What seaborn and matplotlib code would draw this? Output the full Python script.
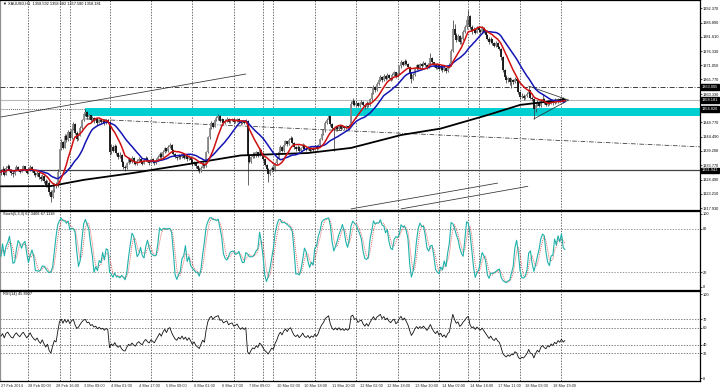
import numpy as np
import pandas as pd
import matplotlib
matplotlib.use("Agg")
import matplotlib.pyplot as plt
import matplotlib.transforms as mtransforms
from matplotlib import font_manager
import seaborn as sns

# ---------------- data (XAUUSD H1) ----------------
close = [
 1331.2, 1332.5, 1330.4, 1332.8, 1333.5, 1332.1, 1331.0, 1330.6, 1332.2, 1333.1,
 1332.0, 1331.4, 1332.6, 1333.4, 1332.3, 1331.1, 1332.0, 1333.2, 1331.8, 1330.9,
 1330.2, 1331.0, 1329.6, 1328.7, 1329.9, 1328.1, 1326.5, 1327.4, 1323.8, 1322.0,
 1324.5, 1326.8, 1326.0, 1331.5, 1339.8, 1342.6, 1340.4, 1344.8, 1343.1, 1346.2,
 1344.0, 1347.5, 1349.2, 1346.0, 1343.6, 1344.9, 1347.8, 1350.6, 1352.9, 1353.6,
 1351.8, 1352.4, 1350.6, 1351.5, 1350.2, 1350.9, 1349.6, 1350.7, 1349.8, 1350.4,
 1349.5, 1350.6, 1350.1, 1338.6, 1340.8, 1339.2, 1341.0, 1338.4, 1336.9, 1337.8,
 1335.0, 1333.2, 1332.8, 1334.6, 1336.0, 1335.2, 1336.4, 1335.0, 1334.2, 1335.6,
 1336.2, 1335.0, 1334.4, 1335.8, 1336.6, 1335.4, 1334.8, 1336.0, 1335.3, 1334.6,
 1335.8, 1336.9, 1338.2, 1337.1, 1338.9, 1340.2, 1339.0, 1340.8, 1341.4, 1339.6,
 1338.2, 1337.0, 1336.4, 1337.5, 1336.8, 1337.9, 1336.6, 1337.4, 1336.1, 1337.0,
 1335.8, 1334.2, 1335.0, 1333.4, 1332.6, 1331.8, 1333.0, 1334.4, 1333.5, 1338.6,
 1344.2, 1347.8, 1349.5, 1348.2, 1350.6, 1351.3, 1352.2, 1350.4, 1350.9, 1349.7,
 1350.5, 1351.2, 1349.8, 1350.6, 1351.0, 1349.9, 1350.3, 1351.1, 1350.0, 1349.4,
 1350.2, 1349.6, 1350.4, 1337.5, 1335.2, 1336.8, 1338.0, 1337.2, 1338.6, 1337.4,
 1339.4, 1338.2, 1336.0, 1333.8, 1332.4, 1330.6, 1331.8, 1333.0, 1332.1, 1334.6,
 1336.3, 1338.9, 1340.6, 1339.2, 1341.5, 1342.8, 1341.6, 1343.4, 1344.0, 1342.1,
 1340.5, 1339.8, 1340.7, 1339.3, 1340.2, 1341.5, 1340.0, 1339.5, 1340.4, 1339.2,
 1340.1, 1339.6, 1340.8, 1340.0, 1341.2, 1343.5, 1345.4, 1346.8, 1349.6, 1350.8,
 1352.0, 1349.2, 1347.6, 1346.9, 1348.0, 1347.2, 1348.4, 1347.5, 1348.2, 1347.6,
 1348.4, 1347.9, 1348.6, 1356.8, 1357.9, 1356.4, 1357.2, 1355.8, 1356.9, 1357.5,
 1356.2, 1355.4, 1357.0, 1356.1, 1358.4, 1360.6, 1362.9, 1361.8, 1364.2, 1365.5,
 1366.8, 1365.4, 1367.2, 1366.1, 1367.5, 1366.4, 1365.9, 1367.6, 1368.4, 1366.9,
 1368.0, 1370.6, 1372.4, 1371.2, 1372.8, 1371.6, 1370.4, 1368.2, 1366.0, 1367.4,
 1369.6, 1371.0, 1370.2, 1371.4, 1370.8, 1372.0, 1371.2, 1370.4, 1371.8, 1373.6,
 1372.2, 1371.0, 1370.2, 1371.4, 1369.8, 1370.6, 1369.2, 1370.0, 1368.9, 1370.5,
 1371.2, 1376.5, 1384.6, 1382.3, 1380.5, 1381.8, 1379.6, 1380.9, 1383.4, 1385.2,
 1388.0, 1389.5, 1385.4, 1383.8, 1384.6, 1383.2, 1385.0, 1384.1, 1383.5, 1384.8,
 1383.6, 1382.4, 1381.0, 1379.6, 1380.8, 1379.2, 1378.4, 1379.5, 1378.0, 1377.2,
 1374.0, 1369.2, 1366.8, 1365.4, 1366.2, 1364.8, 1365.6, 1364.9, 1366.0, 1365.2,
 1361.0, 1359.2, 1359.8, 1358.9, 1359.6, 1360.4, 1361.8, 1359.0, 1358.4, 1354.6,
 1356.2, 1357.4, 1356.0, 1357.8, 1358.6, 1357.2, 1356.4, 1357.6, 1356.8, 1357.9,
 1357.0, 1358.2, 1357.4, 1358.6, 1357.8, 1358.9, 1357.6, 1358.181,
]
high = [
 1332.6, 1333.4, 1332.9, 1333.6, 1334.4, 1333.8, 1332.5, 1331.9, 1332.9, 1333.9,
 1333.5, 1332.4, 1333.2, 1334.1, 1333.6, 1332.5, 1332.8, 1333.9, 1333.4, 1332.0,
 1331.4, 1331.8, 1331.2, 1330.1, 1330.6, 1330.2, 1328.6, 1328.2, 1327.8, 1324.6,
 1325.6, 1327.4, 1327.6, 1332.4, 1340.6, 1343.8, 1343.0, 1345.6, 1345.4, 1347.0,
 1346.8, 1348.2, 1350.1, 1349.6, 1346.5, 1345.8, 1348.4, 1351.2, 1353.6, 1354.6,
 1353.9, 1353.0, 1352.6, 1352.0, 1351.8, 1351.5, 1351.0, 1351.2, 1350.9, 1351.0,
 1350.8, 1351.2, 1350.9, 1350.4, 1341.6, 1341.4, 1341.8, 1341.2, 1338.8, 1338.6,
 1338.0, 1335.6, 1334.0, 1335.2, 1336.8, 1336.6, 1337.2, 1336.8, 1335.6, 1336.2,
 1337.0, 1336.4, 1335.6, 1336.4, 1337.2, 1336.8, 1335.8, 1336.6, 1336.4, 1335.6,
 1336.4, 1337.6, 1338.8, 1338.6, 1339.6, 1340.8, 1340.4, 1341.2, 1342.0, 1341.6,
 1339.8, 1338.4, 1337.4, 1338.0, 1337.8, 1338.4, 1338.2, 1337.9, 1337.6, 1337.6,
 1337.2, 1336.0, 1335.6, 1335.2, 1333.8, 1333.2, 1333.6, 1335.0, 1334.8, 1339.2,
 1344.8, 1348.6, 1350.4, 1349.8, 1351.2, 1352.0, 1352.8, 1352.4, 1351.6, 1351.0,
 1351.0, 1351.8, 1351.4, 1351.2, 1351.6, 1351.2, 1350.9, 1351.6, 1351.3, 1350.4,
 1350.7, 1350.6, 1350.9, 1350.6, 1337.9, 1337.4, 1338.6, 1338.6, 1339.2, 1338.8,
 1340.2, 1339.8, 1338.6, 1336.4, 1334.2, 1333.0, 1332.4, 1333.6, 1333.4, 1335.2,
 1336.8, 1339.6, 1341.2, 1341.0, 1342.0, 1343.4, 1343.0, 1343.9, 1344.6, 1344.2,
 1342.4, 1341.0, 1341.2, 1340.9, 1340.8, 1342.0, 1341.8, 1340.4, 1341.0, 1340.6,
 1340.6, 1340.6, 1341.3, 1341.0, 1341.8, 1344.0, 1345.9, 1347.4, 1350.2, 1351.4,
 1352.4, 1352.0, 1349.6, 1348.0, 1348.6, 1348.4, 1348.9, 1348.6, 1348.8, 1348.4,
 1348.9, 1348.6, 1349.2, 1357.6, 1358.9, 1358.2, 1357.8, 1357.4, 1357.5, 1358.2,
 1357.8, 1356.6, 1357.6, 1357.4, 1358.9, 1361.2, 1363.6, 1363.2, 1364.8, 1366.2,
 1367.4, 1367.0, 1367.8, 1367.6, 1368.1, 1367.8, 1366.8, 1368.2, 1369.0, 1368.6,
 1368.6, 1371.2, 1373.2, 1372.8, 1373.4, 1373.0, 1371.8, 1370.6, 1368.4, 1368.0,
 1370.2, 1371.6, 1371.4, 1372.0, 1371.8, 1372.6, 1372.4, 1371.6, 1372.4, 1375.6,
 1374.0, 1372.4, 1371.4, 1371.8, 1371.6, 1371.2, 1370.8, 1370.6, 1370.2, 1371.0,
 1371.8, 1377.0, 1387.8, 1386.4, 1383.0, 1382.6, 1382.2, 1381.6, 1384.0, 1386.0,
 1389.0, 1391.6, 1389.8, 1386.0, 1385.4, 1385.0, 1385.8, 1385.6, 1384.6, 1385.6,
 1385.2, 1384.0, 1382.6, 1381.4, 1381.4, 1381.0, 1379.9, 1380.2, 1379.8, 1378.4,
 1377.6, 1374.4, 1369.8, 1367.4, 1366.8, 1366.6, 1366.2, 1366.0, 1366.6, 1366.4,
 1365.4, 1361.4, 1360.6, 1360.2, 1360.0, 1361.0, 1363.3, 1362.0, 1359.6, 1358.8,
 1357.0, 1358.0, 1357.6, 1358.4, 1360.2, 1358.8, 1357.6, 1358.2, 1357.8, 1358.4,
 1358.2, 1358.8, 1358.5, 1359.0, 1358.9, 1359.4, 1359.2, 1358.682,
]
low = [
 1330.2, 1330.8, 1329.8, 1330.2, 1332.4, 1331.6, 1330.4, 1329.6, 1330.4, 1331.8,
 1331.6, 1330.8, 1331.2, 1332.2, 1331.8, 1330.6, 1330.8, 1331.7, 1331.2, 1330.2,
 1329.6, 1329.8, 1328.8, 1327.9, 1328.4, 1327.4, 1325.8, 1325.6, 1322.8, 1320.2,
 1321.6, 1324.0, 1325.4, 1325.8, 1331.2, 1339.4, 1339.8, 1340.2, 1342.4, 1342.8,
 1343.4, 1343.6, 1346.8, 1345.4, 1342.8, 1343.2, 1344.6, 1347.4, 1350.2, 1352.0,
 1351.2, 1351.0, 1350.0, 1350.2, 1349.6, 1349.8, 1349.0, 1349.4, 1349.2, 1349.4,
 1348.9, 1349.2, 1349.4, 1337.8, 1338.2, 1338.6, 1338.8, 1337.8, 1336.2, 1336.6,
 1334.4, 1332.6, 1331.8, 1332.4, 1334.2, 1334.6, 1334.8, 1334.4, 1333.8, 1334.0,
 1335.2, 1334.6, 1333.8, 1334.2, 1335.4, 1335.0, 1334.0, 1334.6, 1334.8, 1334.0,
 1334.4, 1335.6, 1336.6, 1336.6, 1336.8, 1338.4, 1338.6, 1338.8, 1340.2, 1339.2,
 1337.8, 1336.4, 1335.8, 1336.2, 1336.2, 1336.6, 1336.0, 1336.4, 1335.6, 1335.8,
 1335.2, 1333.6, 1333.8, 1332.8, 1331.8, 1331.0, 1331.4, 1332.8, 1332.8, 1333.2,
 1338.4, 1343.8, 1347.2, 1347.6, 1348.0, 1350.2, 1350.8, 1350.0, 1350.2, 1349.2,
 1349.2, 1350.0, 1349.4, 1349.6, 1350.2, 1349.4, 1349.6, 1350.0, 1349.6, 1348.8,
 1349.2, 1349.2, 1349.4, 1326.5, 1334.6, 1334.8, 1336.4, 1336.6, 1336.8, 1336.8,
 1337.2, 1337.8, 1335.6, 1333.4, 1331.8, 1327.6, 1330.2, 1331.4, 1331.6, 1331.8,
 1334.2, 1336.0, 1338.6, 1338.8, 1338.9, 1341.2, 1341.0, 1341.4, 1342.8, 1341.6,
 1339.8, 1339.2, 1339.4, 1338.8, 1339.0, 1340.0, 1339.6, 1339.0, 1339.4, 1338.8,
 1339.0, 1339.0, 1339.4, 1339.6, 1339.8, 1341.0, 1343.2, 1345.2, 1346.4, 1349.2,
 1350.4, 1348.6, 1346.8, 1339.0, 1346.6, 1346.6, 1347.0, 1347.0, 1347.4, 1347.0,
 1347.4, 1347.4, 1347.6, 1348.4, 1356.4, 1355.8, 1356.0, 1355.4, 1355.6, 1356.6,
 1355.8, 1354.8, 1355.2, 1355.6, 1356.0, 1358.0, 1360.4, 1361.0, 1361.6, 1363.8,
 1365.2, 1364.8, 1365.2, 1365.6, 1365.8, 1365.8, 1365.2, 1365.6, 1367.2, 1366.4,
 1366.6, 1367.8, 1370.2, 1370.6, 1371.0, 1371.0, 1370.0, 1367.8, 1364.4, 1365.6,
 1367.2, 1369.4, 1369.6, 1370.0, 1370.2, 1370.6, 1370.8, 1369.8, 1370.2, 1371.4,
 1371.6, 1370.4, 1369.6, 1369.8, 1369.2, 1369.4, 1368.6, 1368.8, 1368.2, 1368.6,
 1370.2, 1370.8, 1376.0, 1381.6, 1379.6, 1380.0, 1378.8, 1379.0, 1380.4, 1383.0,
 1384.6, 1386.0, 1384.6, 1382.8, 1383.4, 1382.6, 1383.0, 1383.4, 1382.6, 1383.0,
 1383.0, 1382.0, 1380.4, 1378.8, 1379.2, 1378.6, 1377.8, 1378.0, 1377.4, 1376.6,
 1373.2, 1368.6, 1366.0, 1364.6, 1364.8, 1363.8, 1362.6, 1364.2, 1364.6, 1364.6,
 1360.4, 1358.4, 1358.8, 1358.2, 1358.6, 1359.2, 1359.6, 1358.6, 1357.8, 1351.2,
 1353.8, 1355.8, 1355.4, 1355.6, 1357.4, 1356.6, 1355.8, 1356.0, 1356.2, 1356.6,
 1356.4, 1356.8, 1357.0, 1357.2, 1357.4, 1357.6, 1357.2, 1357.580,
]
# long moving average (black), read at a few bars
ma_long_bar = [0, 29, 48, 77, 106, 139, 178, 203, 232, 255, 282, 301, 323, 327]
ma_long_val = [1326.0, 1326.1, 1328.4, 1331.0, 1334.0, 1337.5, 1338.4, 1340.3,
               1345.1, 1347.5, 1352.5, 1356.3, 1358.0, 1358.2]

price_ticks = [1317.930, 1323.210, 1328.490, 1333.770, 1339.200, 1344.490, 1349.770,
               1360.330, 1365.770, 1371.050, 1376.330, 1381.610, 1386.890, 1392.370]
boxed_prices = [1363.005, 1358.181, 1354.826, 1331.943]

x_tick_bars = [0, 16, 32, 48, 64, 80, 96, 112, 128, 144, 160, 176, 192, 208,
               224, 240, 256, 272, 288, 304, 320]
x_tick_labels = ["27 Feb 2014", "28 Feb 00:00", "28 Feb 16:00", "3 Mar 09:00",
                 "4 Mar 01:00", "4 Mar 17:00", "5 Mar 09:00", "6 Mar 01:00",
                 "6 Mar 17:00", "7 Mar 09:00", "10 Mar 02:00", "10 Mar 18:00",
                 "11 Mar 10:00", "12 Mar 02:00", "12 Mar 18:00", "13 Mar 10:00",
                 "14 Mar 02:00", "14 Mar 18:00", "17 Mar 11:00", "18 Mar 03:00",
                 "18 Mar 19:00"]
separator_bars = [16, 34, 40, 63, 87, 111, 135, 152, 158, 182, 206, 230, 254,
                  271, 277, 301, 325]

zone_start_bar = 49
zone_low, zone_high = 1352.3, 1355.3
level_dashdot = 1363.005
level_bid = 1358.181
level_dotted = 1354.826
level_solid = 1331.943

# trend lines: (bar0, price0, bar1, price1)
trend_solid = [(0, 1351.8, 142, 1367.8),
               (203, 1317.6, 288, 1327.2),
               (232, 1317.6, 305.5, 1326.0),
               (306, 1363.3, 329, 1358.1),
               (309, 1351.1, 329, 1358.1)]
trend_dashdot = (49, 1351.1, 405.3, 1340.7)

stoch_levels = [20, 80]
rsi_levels = [30, 40, 60, 70]
title_main = "\u25BC XAUUSD,H1  1358.592 1358.682 1357.580 1358.181"
title_stoch = "Stoch(5,3,3) 67.3406 67.1118"
title_rsi = "RSI(14) 45.8997"

# ---------------- derived series ----------------
n = len(close)
df = pd.DataFrame({"bar": np.arange(n), "close": close, "high": high, "low": low})
df["open"] = df["close"].shift(1).fillna(df["close"].iloc[0])
df["hi"] = df[["high", "open", "close"]].max(axis=1)
df["lo"] = df[["low", "open", "close"]].min(axis=1)
df["ma_red"] = df["close"].rolling(10, min_periods=1).mean()
df["ma_blue"] = df["close"].rolling(20, min_periods=1).mean()

ll = df["lo"].rolling(5, min_periods=1).min()
hh = df["hi"].rolling(5, min_periods=1).max()
num = (df["close"] - ll).rolling(3, min_periods=1).sum()
den = (hh - ll).rolling(3, min_periods=1).sum()
df["k"] = (100 * num / den).fillna(50)
df["d"] = df["k"].rolling(3, min_periods=1).mean()

delta = df["close"].diff()
rsi_seed = 0.8  # average move carried in from bars before the window
g = delta.clip(lower=0).copy()
l = (-delta.clip(upper=0)).copy()
g.iloc[0] = rsi_seed
l.iloc[0] = rsi_seed
gain = g.ewm(alpha=1 / 14, adjust=False).mean()
loss = l.ewm(alpha=1 / 14, adjust=False).mean()
df["rsi"] = 100 * gain / (gain + loss)

# ---------------- figure ----------------
sns.set_style("white")
names = {f.name for f in font_manager.fontManager.ttflist}
if "Liberation Sans Narrow" in names:
    plt.rcParams["font.family"] = ["Liberation Sans Narrow", "DejaVu Sans"]
    FS = 3.3
else:
    plt.rcParams["font.family"] = ["Liberation Sans", "DejaVu Sans"]
    FS = 2.8
W, H = 720, 387
fig = plt.figure(figsize=(W / 100, H / 100), dpi=100)
R = 700 / W
ax = fig.add_axes([0, 1 - 210 / H, R, 210 / H])
ax_s = fig.add_axes([0, 1 - 290 / H, R, 79 / H], sharex=ax)
ax_r = fig.add_axes([0, 1 - 381 / H, R, 90 / H], sharex=ax)

xlim = (-0.5, 405.3)
for a in (ax, ax_s, ax_r):
    a.set_facecolor("white")
    a.set_xlim(*xlim)
    for s in a.spines.values():
        s.set_color("black")
        s.set_linewidth(0.9)
    a.spines["left"].set_color("#909090")
    a.yaxis.tick_right()
    a.tick_params(axis="y", which="both", direction="out", length=1.5, width=0.5,
                  labelsize=FS, pad=0.6, colors="black")
    for b in separator_bars:
        a.axvline(b, color="#303030", lw=0.5, ls=(0, (2.0, 2.0)), zorder=1)

# main chart
ax.set_ylim(1317.19, 1395.35)
ax.add_patch(plt.Rectangle((zone_start_bar, zone_low), xlim[1] - zone_start_bar,
                           zone_high - zone_low, color="#00CED1", lw=0, zorder=2))
ax.axhline(level_dotted, color="#303030", lw=0.6, ls=(0, (1, 1.5)), zorder=1)
ax.axhline(level_dashdot, color="#202020", lw=0.6, ls=(0, (6, 2, 1, 2)), zorder=3)
ax.axhline(level_bid, color="#b8b8b8", lw=0.8, zorder=1)
ax.axhline(level_solid, color="#404040", lw=0.9, zorder=3)
for (b0, p0, b1, p1) in trend_solid:
    ax.plot([b0, b1], [p0, p1], color="#303030", lw=0.55, zorder=3)
b0, p0, b1, p1 = trend_dashdot
ax.plot([b0, b1], [p0, p1], color="#303030", lw=0.55, ls=(0, (6, 2, 1, 2)), zorder=3)

up = df["close"] >= df["open"]
ax.vlines(df["bar"], df["lo"], df["hi"], color="#2a2a2a", lw=0.5, zorder=4)
ax.vlines(df["bar"][up], df["open"][up], df["close"][up], color="#8a8a8a", lw=1.3, zorder=4)
ax.vlines(df["bar"][~up], df["close"][~up], df["open"][~up], color="#111111", lw=1.3, zorder=4)

sns.lineplot(x=ma_long_bar, y=ma_long_val, ax=ax, color="black", lw=1.3, zorder=5)
sns.lineplot(data=df, x="bar", y="ma_blue", ax=ax, color="#1414b4", lw=1.1, zorder=6)
sns.lineplot(data=df, x="bar", y="ma_red", ax=ax, color="#d01010", lw=1.1, zorder=7)

ax.set_yticks(price_ticks)
ax.set_yticklabels([f"{v:.3f}" for v in price_ticks])
trans = mtransforms.blended_transform_factory(ax.transAxes, ax.transData)
for p in boxed_prices:
    ax.text(1.003, p, f"{p:.3f}", transform=trans, fontsize=FS, color="white",
            va="center", ha="left",
            bbox=dict(boxstyle="square,pad=0.2", fc="black", ec="black"),
            clip_on=False, zorder=10)
ax.text(0.004, 0.992, title_main, transform=ax.transAxes, fontsize=FS,
        va="top", ha="left", color="black")

# stochastic
ax_s.set_ylim(-4.5, 104.1)
for lv in stoch_levels:
    ax_s.axhline(lv, color="#707070", lw=0.5, ls=(0, (2, 2)), zorder=1)
sns.lineplot(data=df, x="bar", y="d", ax=ax_s, color="#e05050", lw=0.6,
             linestyle=(0, (1.2, 1.2)), zorder=3)
sns.lineplot(data=df, x="bar", y="k", ax=ax_s, color="#20B2AA", lw=0.8, zorder=4)
ax_s.set_yticks([0, 20, 80, 100])
ax_s.set_yticklabels(["0", "20", "80", "100"])
ax_s.text(0.004, 0.985, title_stoch, transform=ax_s.transAxes, fontsize=FS,
          va="top", ha="left", color="black")

# RSI
ax_r.set_ylim(-3.2, 103.6)
for lv in rsi_levels:
    ax_r.axhline(lv, color="#505050", lw=0.5, ls=(0, (2, 2)), zorder=1)
sns.lineplot(data=df, x="bar", y="rsi", ax=ax_r, color="#101010", lw=0.6, zorder=3)
ax_r.set_yticks([0] + rsi_levels + [100])
ax_r.set_yticklabels([str(v) for v in [0] + rsi_levels + [100]])
ax_r.text(0.004, 0.985, title_rsi, transform=ax_r.transAxes, fontsize=FS,
          va="top", ha="left", color="black")

for a in (ax, ax_s, ax_r):
    a.set_xlabel("")
    a.set_ylabel("")
for a in (ax, ax_s):
    a.tick_params(axis="x", which="both", bottom=False, labelbottom=False)
ax_r.set_xticks(x_tick_bars)
ax_r.set_xticklabels(x_tick_labels, ha="left")
ax_r.tick_params(axis="x", direction="out", length=1.5, width=0.5, labelsize=FS, pad=0.4)
for lab in ax_r.get_xticklabels():
    lab.set_horizontalalignment("left")

fig.savefig("out.png", dpi=100, facecolor="white")
